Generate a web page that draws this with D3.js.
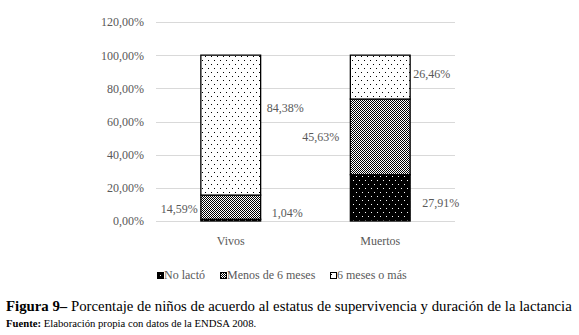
<!DOCTYPE html>
<html>
<head>
<meta charset="utf-8">
<script src="https://cdn.jsdelivr.net/npm/d3@7"></script>
<style>
  body { margin: 0; background: #fff; }
  svg { display: block; }
  svg text { font-family: "Liberation Serif", "Times New Roman", serif; }
</style>
</head>
<body>
<svg id="chart" width="579" height="335"></svg>
<script>
const categories = ['Vivos', 'Muertos'];
const seriesNames = ['No lactó', 'Menos de 6 meses', '6 meses o más'];
const noLacto = [1.04, 27.91];
const menos6 = [14.59, 45.63];
const seis = [84.38, 26.46];
const yTicks = [0, 20, 40, 60, 80, 100, 120];

// where each label sits relative to its bar segment (side, px nudge)
const labelLayout = {
  'Vivos': [{ side: 'right', dx: 11, dy: -7 }, { side: 'left', dx: 3, dy: 2 }, { side: 'right', dx: 6, dy: -17 }],
  'Muertos': [{ side: 'right', dx: 12, dy: 5 }, { side: 'left', dx: 11, dy: 0 }, { side: 'right', dx: 3, dy: -3 }]
};

const serif = '"Liberation Serif", "Times New Roman", serif';
const svg = d3.select('#chart');
const margin = { top: 22, right: 124, bottom: 114, left: 156 };
const width = 579 - margin.left - margin.right;
const height = 335 - margin.top - margin.bottom;
const g = svg.append('g').attr('transform', `translate(${margin.left},${margin.top})`);

// patterns
const defs = svg.append('defs');
const pDots = defs.append('pattern').attr('id', 'dots').attr('patternUnits', 'userSpaceOnUse')
  .attr('width', 6).attr('height', 8);
pDots.append('rect').attr('width', 6).attr('height', 8).attr('fill', '#fff');
pDots.append('rect').attr('x', 1).attr('y', 2).attr('width', 1).attr('height', 1).attr('fill', '#000');
pDots.append('rect').attr('x', 4).attr('y', 6).attr('width', 1).attr('height', 1).attr('fill', '#000');

const pChk = defs.append('pattern').attr('id', 'checker').attr('patternUnits', 'userSpaceOnUse')
  .attr('width', 2).attr('height', 2);
pChk.append('rect').attr('width', 2).attr('height', 2).attr('fill', '#fff');
pChk.append('rect').attr('width', 1).attr('height', 1).attr('fill', '#000');
pChk.append('rect').attr('x', 1).attr('y', 1).attr('width', 1).attr('height', 1).attr('fill', '#000');

const pBlk = defs.append('pattern').attr('id', 'blackdots').attr('patternUnits', 'userSpaceOnUse')
  .attr('width', 6).attr('height', 8);
pBlk.append('rect').attr('width', 6).attr('height', 8).attr('fill', '#000');
pBlk.append('rect').attr('x', 2).attr('y', 2).attr('width', 1).attr('height', 1).attr('fill', '#fff');
pBlk.append('rect').attr('x', 5).attr('y', 6).attr('width', 1).attr('height', 1).attr('fill', '#fff');

const fills = ['url(#blackdots)', 'url(#checker)', 'url(#dots)'];

const data = categories.map((c, i) => ({ cat: c, v0: noLacto[i], v1: menos6[i], v2: seis[i] }));
const stack = d3.stack().keys(['v0', 'v1', 'v2']);
const series = stack(data);

const x = d3.scaleBand().domain(categories).range([0, width]).paddingInner(0.6).paddingOuter(0.3);
const y = d3.scaleLinear().domain([0, 120]).range([height, 0]);

// gridlines
g.append('g').selectAll('line').data(yTicks).join('line')
  .attr('x1', 0).attr('x2', width)
  .attr('y1', d => Math.round(y(d)) + 0.5).attr('y2', d => Math.round(y(d)) + 0.5)
  .attr('stroke', '#d9d9d9').attr('stroke-width', 1);

// y axis labels
const fmt = d => d.toFixed(2).replace('.', ',') + '%';
const yAxis = g.append('g').call(d3.axisLeft(y).tickValues(yTicks).tickFormat(fmt).tickSize(0).tickPadding(12));
yAxis.attr('font-family', serif);
yAxis.select('.domain').remove();
yAxis.selectAll('text').attr('font-size', 12).attr('fill', '#595959');

// bars
series.forEach((s, k) => {
  g.append('g').selectAll('rect').data(s).join('rect')
    .attr('x', d => x(d.data.cat))
    .attr('y', d => y(d[1]))
    .attr('width', x.bandwidth())
    .attr('height', d => y(d[0]) - y(d[1]))
    .attr('fill', fills[k])
    .attr('stroke', '#000').attr('stroke-width', 1.3);
});

// data labels
series.forEach((s, k) => {
  g.append('g').attr('font-family', serif).selectAll('text').data(s).join('text')
    .each(function(d) {
      const lay = labelLayout[d.data.cat][k];
      const mid = y((d[0] + d[1]) / 2) + lay.dy;
      const el = d3.select(this);
      if (lay.side === 'right') {
        el.attr('x', x(d.data.cat) + x.bandwidth() + lay.dx).attr('text-anchor', 'start');
      } else {
        el.attr('x', x(d.data.cat) - lay.dx).attr('text-anchor', 'end');
      }
      el.attr('y', mid).attr('dy', '0.35em');
    })
    .attr('font-size', 12).attr('fill', '#595959')
    .text(d => fmt(d[1] - d[0]));
});

// x axis labels
const xAxis = g.append('g').attr('transform', `translate(0,${height})`)
  .call(d3.axisBottom(x).tickSize(0).tickPadding(15));
xAxis.attr('font-family', serif);
xAxis.select('.domain').remove();
xAxis.selectAll('text').attr('font-size', 12).attr('fill', '#595959');

// legend
const legendX = [157, 220, 330];
const legend = svg.append('g').attr('transform', 'translate(0,272)').attr('font-family', serif);
seriesNames.forEach((n, k) => {
  const item = legend.append('g').attr('transform', `translate(${legendX[k]},0)`);
  item.append('rect').attr('x', 0.5).attr('y', 0.5).attr('width', 6).attr('height', 6)
    .attr('fill', k === 0 ? '#000' : fills[k]).attr('stroke', '#000').attr('stroke-width', 1);
  if (k === 0) item.append('rect').attr('x', 3).attr('y', 3).attr('width', 1).attr('height', 1).attr('fill', '#fff');
  item.append('text').attr('x', 7).attr('y', 7).attr('font-size', 12).attr('fill', '#595959').text(n);
});

// caption
const cap = svg.append('text').attr('x', 6).attr('y', 311).attr('font-size', 14.8).attr('fill', '#000');
cap.append('tspan').attr('font-weight', 'bold').text('Figura 9–');
cap.append('tspan').text(' Porcentaje de niños de acuerdo al estatus de supervivencia y duración de la lactancia');

const src = svg.append('text').attr('x', 6).attr('y', 327).attr('font-size', 10.7).attr('fill', '#000');
src.append('tspan').attr('font-weight', 'bold').text('Fuente:');
src.append('tspan').text(' Elaboración propia con datos de la ENDSA 2008.');
</script>
</body>
</html>
